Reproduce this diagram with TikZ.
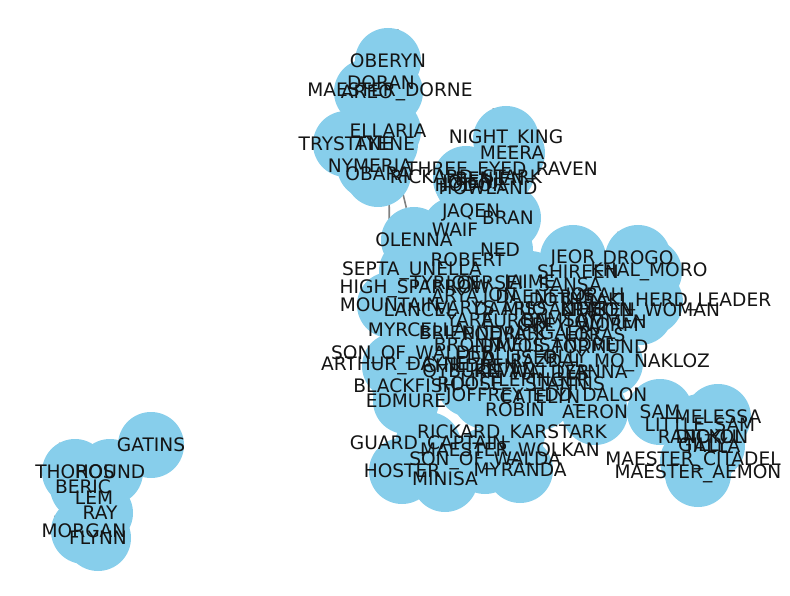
\documentclass[tikz,border=0pt]{standalone}
\usepackage{fontspec}
\setmainfont{DejaVu Sans}
\definecolor{sky}{HTML}{87CEEB}
\pgfdeclarelayer{bg}
\pgfsetlayers{bg,main}
\tikzset{
  vert/.style={circle,fill=sky,minimum size=66pt,inner sep=0pt},
  lab/.style={font=\fontsize{18.6}{18.6}\selectfont,text=black!92,inner sep=0pt},
  edge/.style={draw=gray,line width=1.6pt}
}
\begin{document}
\begin{tikzpicture}[x=1pt,y=-1pt]
\useasboundingbox (0,0) rectangle (790,596);
\def\nodelist{
oberyn/388/61/OBERYN, doran/381/83/DORAN, mdorne/390/92/MAESTER\_DORNE, areo/367/92/AREO,
ellaria/388/131/ELLARIA, trystane/346/144/TRYSTANE, tyene/385/144/TYENE,
nymeria/370/166/NYMERIA, obara/378/174/OBARA,
nking/506/139/NIGHT\_KING, meera/512/153/MEERA, raven/502/171/THREE\_EYED\_RAVEN,
rstark/466/179/RICKARD\_STARK, hodor/470/185/HODOR, benjen/490/181/BENJEN,
howland/488/188/HOWLAND, jojen/468/183/JOJEN, jaqen/471/212/JAQEN, bran/508/218/BRAN,
waif/455/230/WAIF, olenna/414/240/OLENNA, robert/468/260/ROBERT, ned/500/250/NED,
septa/412/271/SEPTA\_UNELLA, high/415/289/HIGH\_SPARROW, mountain/390/305/MOUNTAIN,
lancel/420/310/LANCEL, myrcella/417/330/MYRCELLA, sonwalder/413/355/SON\_OF\_WALDER,
arthur/395/366/ARTHUR\_DAYNE, children/470/366/CHILDREN, blackfish/405/386/BLACKFISH,
edmure/406/401/EDMURE, robin/515/410/ROBIN, aeron/595/412/AERON,
rkarstark/512/434/RICKARD\_KARSTARK, guard/428/445/GUARD\_CAPTAIN,
wolkan/510/452/MAESTER\_WOLKAN, walda/485/461/SON\_OF\_WALDA, hoster/402/471/HOSTER,
myranda/520/470/MYRANDA, minisa/445/479/MINISA,
jeor/573/258/JEOR, drogo/638/258/DROGO, khalmoro/649/272/KHAL\_MORO, shireen/578/272/SHIREEN,
leader/650/302/DOTHRAKI\_HERD\_LEADER, woman/640/312/KRAKEN\_WOMAN, greyworm/578/327/GREY\_WORM,
nakloz/610/363/RAZDAL\_MO\_NAKLOZ,
tyrion/445/283/TYRION, cersei/490/283/CERSEI, jaime/530/284/JAIME, sansa/570/285/SANSA,
arya/455/296/ARYA, jon/500/296/JON, daenerys/545/297/DAENERYS, jorah/595/296/JORAH,
varys/465/308/VARYS, daario/510/309/DAARIO, missandei/555/309/MISSANDEI, theon/600/310/THEON,
yara/470/320/YARA, euron/515/321/EURON, ramsay/560/320/RAMSAY, tommen/605/322/TOMMEN,
brienne/460/333/BRIENNE, podrick/505/334/PODRICK, margaery/550/333/MARGAERY, loras/595/335/LORAS,
bronn/468/345/BRONN, davos/512/346/DAVOS, melisandre/556/345/MELISANDRE, tormund/600/347/TORMUND,
edd/475/358/EDD, alliser/520/358/ALLISER, olly/565/357/OLLY,
qyburn/462/372/QYBURN, kevan/505/371/KEVAN, walder/550/372/WALDER, lyanna/592/372/LYANNA,
littlefinger/525/380/LITTLEFINGER, roose/470/384/ROOSE, stannis/565/384/STANNIS,
joffrey/485/396/JOFFREY, catelyn/540/397/CATELYN, dolorous/590/397/EDD\_DALON,
sam/660/412/SAM, melessa/718/417/MELESSA, lsam/700/427/LITTLE\_SAM, randyll/700/437/RANDYLL,
dickon/712/437/DICKON, gilly/703/445/GILLY, talla/712/446/TALLA,
citadel/693/461/MAESTER\_CITADEL, aemon/698/474/MAESTER\_AEMON,
gatins/151/445/GATINS, thoros/75/472/THOROS, hound/110/472/HOUND, beric/83/487/BERIC,
lem/94/498/LEM, ray/100/513/RAY, morgan/84/531/MORGAN, flynn/98/538/FLYNN}
\foreach \i/\x/\y/\t in \nodelist { \node[vert] (\i) at (\x,\y) {}; }
\begin{pgfonlayer}{bg}
\foreach \a/\b in {ellaria/olenna, oberyn/mountain, oberyn/doran, doran/mdorne, ellaria/trystane,
  nymeria/obara, nking/meera, raven/bran, jaqen/waif, ned/robert, robert/septa, jeor/drogo,
  drogo/khalmoro, aeron/sam, sam/melessa, sam/citadel, citadel/aemon, gatins/hound, thoros/beric,
  lem/ray, morgan/flynn, rkarstark/wolkan, myranda/minisa, hoster/edmure, blackfish/edmure}
  \draw[edge] (\a) -- (\b);
\end{pgfonlayer}
\foreach \i/\x/\y/\t in \nodelist { \node[lab] (t\i) at (\x,\y) {\t}; }
\end{tikzpicture}
\end{document}
